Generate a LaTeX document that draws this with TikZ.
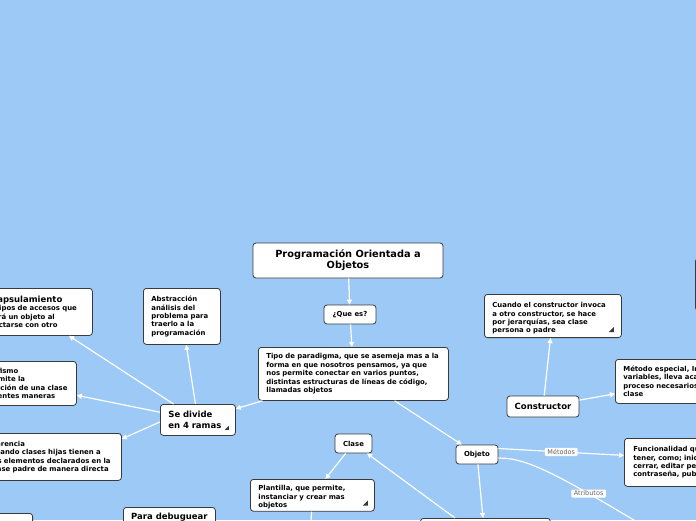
\documentclass[tikz,border=0pt]{standalone}
\usepackage{fontspec}
\setmainfont{DejaVu Sans}
\usepackage{tikz}
\usetikzlibrary{positioning,arrows.meta,shapes}

\definecolor{skyback}{RGB}{156,201,245}
\definecolor{boxline}{RGB}{58,58,58}
\definecolor{tagtext}{RGB}{100,100,100}

\begin{document}
\begin{tikzpicture}[
            x=1pt, y=-1pt,
            idea/.style={rectangle, rounded corners=3pt, draw=boxline, fill=white, line width=0.8pt, font=\fontsize{6.9}{8.4}\selectfont\bfseries, align=left, inner xsep=8pt, inner ysep=4pt},
            bigidea/.style={idea, font=\fontsize{8.5}{11}\selectfont\bfseries},
            titleidea/.style={idea, font=\fontsize{9.8}{11}\selectfont\bfseries, align=center},
            link/.style={-{Triangle[length=5pt,width=5pt]}, draw=white, line width=1.2pt},
            plainlink/.style={draw=white, line width=1.2pt},
            tag/.style={fill=white, rounded corners=1pt, font=\fontsize{6.5}{7}\selectfont, text=tagtext, inner xsep=2.5pt, inner ysep=1.5pt}
        ]
        \useasboundingbox (0,0) rectangle (696,520);
        \fill[skyback] (0,0) rectangle (696,520);
        \clip (0,0) rectangle (696,520);
        % centre
        \node[titleidea, minimum width=190pt, minimum height=35pt] (title) at (348,260.5) {Programación Orientada a\\Objetos};
        \node[idea, minimum width=52pt, minimum height=19pt, inner xsep=0pt] (quees) at (350,314.5) {¿Que es?};
        \node[idea, anchor=north west, text width=174pt, minimum height=53pt] (tipo) at (258,347) {Tipo de paradigma, que se asemeja mas a la\\forma en que nosotros pensamos, ya que\\nos permite conectar en varios puntos,\\distintas estructuras de líneas de código,\\llamadas objetos};
        % ramas
        \node[bigidea, anchor=north west, text width=59pt, minimum height=31pt] (divide) at (160,404) {Se divide\\en 4 ramas};
        \node[idea, anchor=north west, text width=61pt, minimum height=56pt] (abstr) at (143,288) {Abstracción\\análisis del\\problema para\\traerlo a la\\programación};
        \node[idea, anchor=north west, text width=104pt, minimum height=47pt] (encap) at (-28,288) {{\fontsize{8.5}{10}\selectfont Encapsulamiento}\\Los tipos de accesos que\\tendrá un objeto al\\conectarse con otro};
        \node[idea, anchor=north west, text width=101pt, minimum height=44pt] (polim) at (-41,361) {Polimorfismo\\Que permite la\\modificación de una clase\\de diferentes maneras};
        \node[idea, anchor=north west, text width=123pt, minimum height=47pt] (heren) at (-18,433) {Herencia\\Cuando clases hijas tienen a\\los elementos declarados en la\\clase padre de manera directa};
        \node[bigidea, anchor=north west, minimum width=92pt, inner xsep=7pt, inner ysep=6pt] (debug) at (123,507) {Para debuguear};
        \node[idea, anchor=north east, minimum width=70pt, minimum height=20pt] (leftlow) at (33,513) {};
        % clase y objeto
        \node[idea, minimum width=37pt, minimum height=19pt, inner xsep=0pt] (clase) at (353.5,443.5) {Clase};
        \node[idea, anchor=north west, text width=108pt, text height=8pt, text depth=16.8pt, inner ysep=3.5pt] (plantilla) at (250,479) {Plantilla, que permite,\\instanciar y crear mas\\objetos};
        \coordinate (plantillaend) at (309,560);
        \node[idea, minimum width=42pt, minimum height=19pt, inner xsep=0pt] (objeto) at (477,454.5) {Objeto};
        \node[idea, anchor=north west, minimum width=130pt, minimum height=20pt] (lowbox) at (420,518) {};
        \node[idea, anchor=north west, text width=100pt, minimum height=48pt, inner xsep=9pt] (funcional) at (624,438) {Funcionalidad que puede\\tener, como; iniciar,\\cerrar, editar perfil,\\contraseña, publicar};
        \coordinate (attrend) at (700,560);
        % constructor
        \node[bigidea, minimum width=72pt, minimum height=21pt, inner xsep=0pt] (constructor) at (543,406.5) {Constructor};
        \node[idea, anchor=north west, text width=121pt, text height=8.6pt, text depth=25.2pt, inner ysep=4.7pt] (cuando) at (484,294) {Cuando el constructor invoca\\a otro constructor, se hace\\por jerarquías, sea clase\\persona o padre};
        \node[idea, anchor=north west, text width=125pt, minimum height=44pt] (metodo) at (615,359) {Método especial, Inicializa\\variables, lleva acabo el\\proceso necesarios de la\\clase};
        \node[idea, anchor=north west, minimum width=40pt, minimum height=52pt] (rightbox) at (695,258) {};
        % note marks
        \fill[boxline] ([shift={(-8,-6)}]cuando.south east) -- ++(0,-5) -- ++(-5,5) -- cycle;
        \fill[boxline] ([shift={(-7,-6)}]plantilla.south east) -- ++(0,-5) -- ++(-5,5) -- cycle;
        \fill[boxline] ([shift={(-7,-6)}]divide.south east) -- ++(0,-4) -- ++(-4,4) -- cycle;
        % links
        \draw[link] (title) -- (quees);
        \draw[link] (quees) -- (tipo);
        \draw[link] (tipo) -- (divide);
        \draw[link] (tipo) -- (objeto);
        \draw[link] (divide) -- (abstr);
        \draw[link] (divide) -- (encap);
        \draw[link] (divide) -- (polim);
        \draw[link] ([yshift=-2pt]divide.west) -- ([yshift=18pt]heren.east);
        \draw[link] (clase) -- (plantilla);
        \draw[plainlink] (plantilla) -- (plantillaend);
        \draw[link] ([xshift=35pt]lowbox.north west) -- (clase);
        \draw[link] (objeto) -- ([xshift=63pt]lowbox.north west);
        \draw[link] ([yshift=6pt]objeto.east) -- node[tag] {Métodos} ([yshift=7pt]funcional.west);
        \draw[plainlink] ([yshift=-3.5pt]objeto.east) .. controls (530,458) and (560,475) .. node[tag, pos=0.65] {Atributos} (attrend);
        \draw[link] (constructor) -- (cuando);
        \draw[link] (constructor) -- (metodo);
\end{tikzpicture}
\end{document}
